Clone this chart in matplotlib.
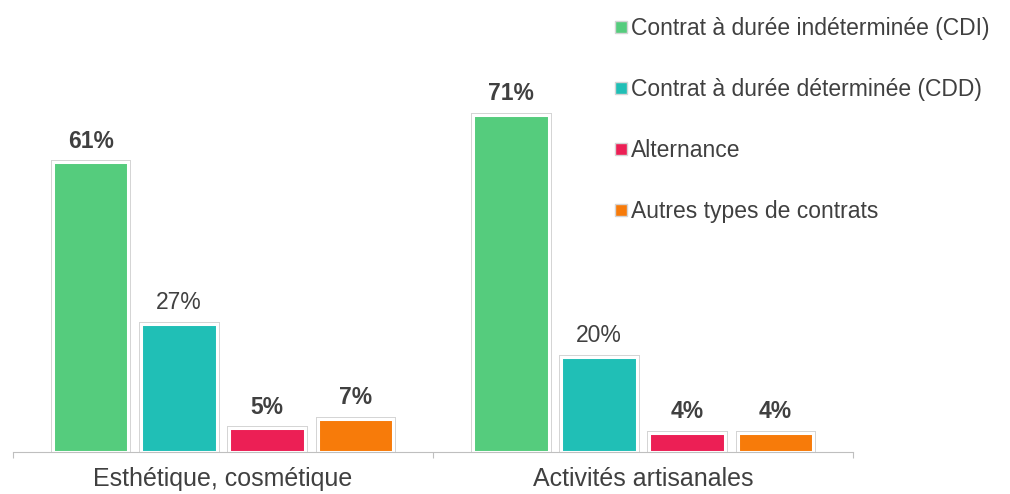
import numpy as np
import matplotlib
matplotlib.use("Agg")
import matplotlib.pyplot as plt
from matplotlib.lines import Line2D

plt.rcParams['font.family'] = ['Liberation Sans', 'DejaVu Sans']

groups = ['Esthétique, cosmétique', 'Activités artisanales']
series = ['Contrat à durée indéterminée (CDI)', 'Contrat à durée déterminée (CDD)',
          'Alternance', 'Autres types de contrats']
cdi = [61, 71]
cdd = [27, 20]
alternance = [5, 4]
autres = [7, 4]
values = [cdi, cdd, alternance, autres]
colors = ['#55cc7d', '#20bfb6', '#ec1f55', '#f77b0a']
bold = [True, False, True, True]

fig = plt.figure(figsize=(10.1, 4.94), dpi=100)
ax = fig.add_axes([13 / 1010, 42 / 494, 840 / 1010, 452 / 494])

x = np.arange(len(groups))
step = 0.21
width = 0.18
offsets = (np.arange(len(series)) - 1.5) * step

for i, (vals, c) in enumerate(zip(values, colors)):
    pos = x + offsets[i]
    ax.bar(pos, vals, width, color=c, edgecolor='#d4d4d4', linewidth=3.6, zorder=2)
    ax.bar(pos, vals, width, color=c, edgecolor='white', linewidth=2.2, zorder=3)
    for p, v in zip(pos, vals):
        ax.annotate(f'{v}%', (p, v), xytext=(0, 7), textcoords='offset points',
                    ha='center', va='bottom', fontsize=16.5, color='#404040',
                    fontweight='bold' if bold[i] else 'normal')

ax.set_xlim(-0.5, 1.5)
ax.set_ylim(0, 95.2)
for s in ['top', 'left', 'right']:
    ax.spines[s].set_visible(False)
ax.spines['bottom'].set_color('#bfbfbf')
ax.spines['bottom'].set_zorder(4)
ax.set_yticks([])
ax.set_xticks([-0.5, 0.5, 1.5])
ax.set_xticklabels([])
ax.tick_params(axis='x', which='major', direction='out', length=4, color='#bfbfbf')
ax.set_xticks(x, minor=True)
ax.set_xticklabels(groups, minor=True, fontsize=18, color='#404040')
ax.tick_params(axis='x', which='minor', length=0, pad=11)

handles = [Line2D([], [], marker='s', linestyle='none', markersize=8.5,
                  markerfacecolor=c, markeredgecolor='#d4d4d4', markeredgewidth=1)
           for c in colors]
fig.legend(handles, series, loc='upper left', bbox_to_anchor=(598 / 1010, 1 - 1 / 494),
           frameon=False, fontsize=16.5, labelcolor='#404040', handlelength=0.6,
           handletextpad=0.15, labelspacing=1.66, borderaxespad=0.3)

fig.savefig('out.png', dpi=100)
